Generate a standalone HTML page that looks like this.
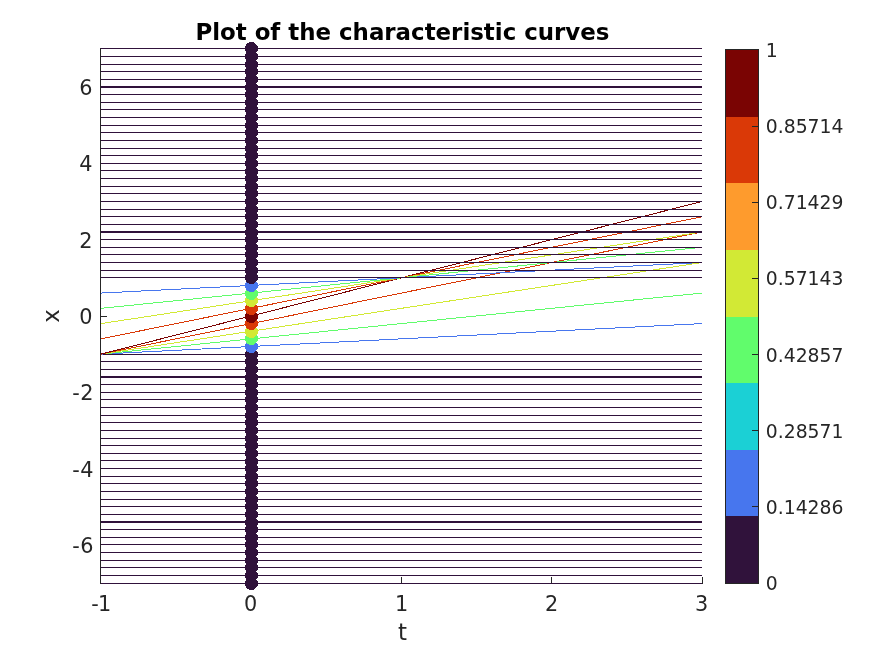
<!DOCTYPE html>
<html lang="en"><head><meta charset="utf-8"><title>Plot of the characteristic curves</title>
<style>html,body{margin:0;padding:0;background:#fff}svg{display:block}text{font-family:"DejaVu Sans","Liberation Sans",sans-serif;fill:#262626}.tk{font-size:20.8px}.cb{font-size:18.8px}.lb{font-size:22.9px}.ttl{font-size:22.9px;font-weight:bold;fill:#000}</style></head><body>
<svg width="874" height="655" viewBox="0 0 874 655">
<rect width="874" height="655" fill="#fff"/>
<g shape-rendering="crispEdges" fill="#262626">
<rect x="100" y="48" width="1" height="536"/>
<rect x="100" y="583" width="603" height="1"/>
<rect x="100" y="577" width="1" height="6"/>
<rect x="251" y="577" width="1" height="6"/>
<rect x="401" y="577" width="1" height="6"/>
<rect x="551" y="577" width="1" height="6"/>
<rect x="702" y="577" width="1" height="6"/>
<rect x="101" y="544" width="6" height="1"/>
<rect x="101" y="468" width="6" height="1"/>
<rect x="101" y="392" width="6" height="1"/>
<rect x="101" y="316" width="6" height="1"/>
<rect x="101" y="239" width="6" height="1"/>
<rect x="101" y="163" width="6" height="1"/>
<rect x="101" y="87" width="6" height="1"/>
</g>
<g shape-rendering="crispEdges">
<rect x="101" y="583" width="601" height="1" fill="#30123b"/>
<rect x="101" y="575" width="601" height="1" fill="#30123b"/>
<rect x="101" y="567" width="601" height="1" fill="#30123b"/>
<rect x="101" y="560" width="601" height="1" fill="#30123b"/>
<rect x="101" y="552" width="601" height="1" fill="#30123b"/>
<rect x="101" y="544" width="601" height="1" fill="#30123b"/>
<rect x="101" y="537" width="601" height="1" fill="#30123b"/>
<rect x="101" y="529" width="601" height="1" fill="#30123b"/>
<rect x="101" y="521" width="601" height="2" fill="#30123b"/>
<rect x="101" y="514" width="601" height="1" fill="#30123b"/>
<rect x="101" y="506" width="601" height="1" fill="#30123b"/>
<rect x="101" y="499" width="601" height="1" fill="#30123b"/>
<rect x="101" y="491" width="601" height="1" fill="#30123b"/>
<rect x="101" y="483" width="601" height="1" fill="#30123b"/>
<rect x="101" y="476" width="601" height="1" fill="#30123b"/>
<rect x="101" y="468" width="601" height="1" fill="#30123b"/>
<rect x="101" y="460" width="601" height="1" fill="#30123b"/>
<rect x="101" y="453" width="601" height="1" fill="#30123b"/>
<rect x="101" y="445" width="601" height="1" fill="#30123b"/>
<rect x="101" y="438" width="601" height="1" fill="#30123b"/>
<rect x="101" y="430" width="601" height="1" fill="#30123b"/>
<rect x="101" y="422" width="601" height="1" fill="#30123b"/>
<rect x="101" y="415" width="601" height="1" fill="#30123b"/>
<rect x="101" y="407" width="601" height="1" fill="#30123b"/>
<rect x="101" y="399" width="601" height="1" fill="#30123b"/>
<rect x="101" y="392" width="601" height="1" fill="#30123b"/>
<rect x="101" y="384" width="601" height="1" fill="#30123b"/>
<rect x="101" y="376" width="601" height="2" fill="#30123b"/>
<rect x="101" y="369" width="601" height="1" fill="#30123b"/>
<rect x="101" y="361" width="601" height="1" fill="#30123b"/>
<rect x="101" y="354" width="601" height="1" fill="#30123b"/>
<line x1="101.00" y1="354.11" x2="702.00" y2="323.58" stroke="#4776ee" stroke-width="1"/>
<line x1="101.00" y1="354.11" x2="702.00" y2="293.05" stroke="#61fc6c" stroke-width="1"/>
<line x1="101.00" y1="354.11" x2="702.00" y2="262.53" stroke="#d2e935" stroke-width="1"/>
<line x1="101.00" y1="354.11" x2="702.00" y2="232.00" stroke="#da3907" stroke-width="1"/>
<line x1="101.00" y1="354.11" x2="702.00" y2="201.47" stroke="#7a0403" stroke-width="1"/>
<line x1="101.00" y1="338.84" x2="702.00" y2="216.74" stroke="#da3907" stroke-width="1"/>
<line x1="101.00" y1="323.58" x2="702.00" y2="232.00" stroke="#d2e935" stroke-width="1"/>
<line x1="101.00" y1="308.32" x2="702.00" y2="247.26" stroke="#61fc6c" stroke-width="1"/>
<line x1="101.00" y1="293.05" x2="702.00" y2="262.53" stroke="#4776ee" stroke-width="1"/>
<rect x="101" y="277" width="601" height="1" fill="#30123b"/>
<rect x="101" y="270" width="601" height="1" fill="#30123b"/>
<rect x="101" y="262" width="601" height="1" fill="#30123b"/>
<rect x="101" y="254" width="601" height="1" fill="#30123b"/>
<rect x="101" y="247" width="601" height="1" fill="#30123b"/>
<rect x="101" y="239" width="601" height="1" fill="#30123b"/>
<rect x="101" y="231" width="601" height="2" fill="#30123b"/>
<rect x="101" y="224" width="601" height="1" fill="#30123b"/>
<rect x="101" y="216" width="601" height="1" fill="#30123b"/>
<rect x="101" y="209" width="601" height="1" fill="#30123b"/>
<rect x="101" y="201" width="601" height="1" fill="#30123b"/>
<rect x="101" y="193" width="601" height="1" fill="#30123b"/>
<rect x="101" y="186" width="601" height="1" fill="#30123b"/>
<rect x="101" y="178" width="601" height="1" fill="#30123b"/>
<rect x="101" y="170" width="601" height="1" fill="#30123b"/>
<rect x="101" y="163" width="601" height="1" fill="#30123b"/>
<rect x="101" y="155" width="601" height="1" fill="#30123b"/>
<rect x="101" y="148" width="601" height="1" fill="#30123b"/>
<rect x="101" y="140" width="601" height="1" fill="#30123b"/>
<rect x="101" y="132" width="601" height="1" fill="#30123b"/>
<rect x="101" y="125" width="601" height="1" fill="#30123b"/>
<rect x="101" y="117" width="601" height="1" fill="#30123b"/>
<rect x="101" y="109" width="601" height="1" fill="#30123b"/>
<rect x="101" y="102" width="601" height="1" fill="#30123b"/>
<rect x="101" y="94" width="601" height="1" fill="#30123b"/>
<rect x="101" y="86" width="601" height="2" fill="#30123b"/>
<rect x="101" y="79" width="601" height="1" fill="#30123b"/>
<rect x="101" y="71" width="601" height="1" fill="#30123b"/>
<rect x="101" y="64" width="601" height="1" fill="#30123b"/>
<rect x="101" y="56" width="601" height="1" fill="#30123b"/>
<rect x="101" y="48" width="601" height="1" fill="#30123b"/>
</g>
<g shape-rendering="crispEdges">
<path fill="#30123b" d="M249 577h5v1h-5zM247 578h8v1h-8zM246 579h10v1h-10zM246 580h11v1h-11zM245 581h13v1h-13zM245 582h13v1h-13zM245 583h13v1h-13zM245 584h13v1h-13zM245 585h13v1h-13zM246 586h11v1h-11zM246 587h10v1h-10zM247 588h8v1h-8zM249 589h5v1h-5z"/>
<path fill="#30123b" d="M249 569h5v1h-5zM247 570h8v1h-8zM246 571h10v1h-10zM246 572h11v1h-11zM245 573h13v1h-13zM245 574h13v1h-13zM245 575h13v1h-13zM245 576h13v1h-13zM245 577h13v1h-13zM246 578h11v1h-11zM246 579h10v1h-10zM247 580h8v1h-8zM249 581h5v1h-5z"/>
<path fill="#30123b" d="M249 561h5v1h-5zM247 562h8v1h-8zM246 563h10v1h-10zM246 564h11v1h-11zM245 565h13v1h-13zM245 566h13v1h-13zM245 567h13v1h-13zM245 568h13v1h-13zM245 569h13v1h-13zM246 570h11v1h-11zM246 571h10v1h-10zM247 572h8v1h-8zM249 573h5v1h-5z"/>
<path fill="#30123b" d="M249 554h5v1h-5zM247 555h8v1h-8zM246 556h10v1h-10zM246 557h11v1h-11zM245 558h13v1h-13zM245 559h13v1h-13zM245 560h13v1h-13zM245 561h13v1h-13zM245 562h13v1h-13zM246 563h11v1h-11zM246 564h10v1h-10zM247 565h8v1h-8zM249 566h5v1h-5z"/>
<path fill="#30123b" d="M249 546h5v1h-5zM247 547h8v1h-8zM246 548h10v1h-10zM246 549h11v1h-11zM245 550h13v1h-13zM245 551h13v1h-13zM245 552h13v1h-13zM245 553h13v1h-13zM245 554h13v1h-13zM246 555h11v1h-11zM246 556h10v1h-10zM247 557h8v1h-8zM249 558h5v1h-5z"/>
<path fill="#30123b" d="M249 538h5v1h-5zM247 539h8v1h-8zM246 540h10v1h-10zM246 541h11v1h-11zM245 542h13v1h-13zM245 543h13v1h-13zM245 544h13v1h-13zM245 545h13v1h-13zM245 546h13v1h-13zM246 547h11v1h-11zM246 548h10v1h-10zM247 549h8v1h-8zM249 550h5v1h-5z"/>
<path fill="#30123b" d="M249 531h5v1h-5zM247 532h8v1h-8zM246 533h10v1h-10zM246 534h11v1h-11zM245 535h13v1h-13zM245 536h13v1h-13zM245 537h13v1h-13zM245 538h13v1h-13zM245 539h13v1h-13zM246 540h11v1h-11zM246 541h10v1h-10zM247 542h8v1h-8zM249 543h5v1h-5z"/>
<path fill="#30123b" d="M249 523h5v1h-5zM247 524h8v1h-8zM246 525h10v1h-10zM246 526h11v1h-11zM245 527h13v1h-13zM245 528h13v1h-13zM245 529h13v1h-13zM245 530h13v1h-13zM245 531h13v1h-13zM246 532h11v1h-11zM246 533h10v1h-10zM247 534h8v1h-8zM249 535h5v1h-5z"/>
<path fill="#30123b" d="M249 516h5v1h-5zM247 517h8v1h-8zM246 518h10v1h-10zM246 519h11v1h-11zM245 520h13v1h-13zM245 521h13v1h-13zM245 522h13v1h-13zM245 523h13v1h-13zM245 524h13v1h-13zM246 525h11v1h-11zM246 526h10v1h-10zM247 527h8v1h-8zM249 528h5v1h-5z"/>
<path fill="#30123b" d="M249 508h5v1h-5zM247 509h8v1h-8zM246 510h10v1h-10zM246 511h11v1h-11zM245 512h13v1h-13zM245 513h13v1h-13zM245 514h13v1h-13zM245 515h13v1h-13zM245 516h13v1h-13zM246 517h11v1h-11zM246 518h10v1h-10zM247 519h8v1h-8zM249 520h5v1h-5z"/>
<path fill="#30123b" d="M249 500h5v1h-5zM247 501h8v1h-8zM246 502h10v1h-10zM246 503h11v1h-11zM245 504h13v1h-13zM245 505h13v1h-13zM245 506h13v1h-13zM245 507h13v1h-13zM245 508h13v1h-13zM246 509h11v1h-11zM246 510h10v1h-10zM247 511h8v1h-8zM249 512h5v1h-5z"/>
<path fill="#30123b" d="M249 493h5v1h-5zM247 494h8v1h-8zM246 495h10v1h-10zM246 496h11v1h-11zM245 497h13v1h-13zM245 498h13v1h-13zM245 499h13v1h-13zM245 500h13v1h-13zM245 501h13v1h-13zM246 502h11v1h-11zM246 503h10v1h-10zM247 504h8v1h-8zM249 505h5v1h-5z"/>
<path fill="#30123b" d="M249 485h5v1h-5zM247 486h8v1h-8zM246 487h10v1h-10zM246 488h11v1h-11zM245 489h13v1h-13zM245 490h13v1h-13zM245 491h13v1h-13zM245 492h13v1h-13zM245 493h13v1h-13zM246 494h11v1h-11zM246 495h10v1h-10zM247 496h8v1h-8zM249 497h5v1h-5z"/>
<path fill="#30123b" d="M249 477h5v1h-5zM247 478h8v1h-8zM246 479h10v1h-10zM246 480h11v1h-11zM245 481h13v1h-13zM245 482h13v1h-13zM245 483h13v1h-13zM245 484h13v1h-13zM245 485h13v1h-13zM246 486h11v1h-11zM246 487h10v1h-10zM247 488h8v1h-8zM249 489h5v1h-5z"/>
<path fill="#30123b" d="M249 470h5v1h-5zM247 471h8v1h-8zM246 472h10v1h-10zM246 473h11v1h-11zM245 474h13v1h-13zM245 475h13v1h-13zM245 476h13v1h-13zM245 477h13v1h-13zM245 478h13v1h-13zM246 479h11v1h-11zM246 480h10v1h-10zM247 481h8v1h-8zM249 482h5v1h-5z"/>
<path fill="#30123b" d="M249 462h5v1h-5zM247 463h8v1h-8zM246 464h10v1h-10zM246 465h11v1h-11zM245 466h13v1h-13zM245 467h13v1h-13zM245 468h13v1h-13zM245 469h13v1h-13zM245 470h13v1h-13zM246 471h11v1h-11zM246 472h10v1h-10zM247 473h8v1h-8zM249 474h5v1h-5z"/>
<path fill="#30123b" d="M249 455h5v1h-5zM247 456h8v1h-8zM246 457h10v1h-10zM246 458h11v1h-11zM245 459h13v1h-13zM245 460h13v1h-13zM245 461h13v1h-13zM245 462h13v1h-13zM245 463h13v1h-13zM246 464h11v1h-11zM246 465h10v1h-10zM247 466h8v1h-8zM249 467h5v1h-5z"/>
<path fill="#30123b" d="M249 447h5v1h-5zM247 448h8v1h-8zM246 449h10v1h-10zM246 450h11v1h-11zM245 451h13v1h-13zM245 452h13v1h-13zM245 453h13v1h-13zM245 454h13v1h-13zM245 455h13v1h-13zM246 456h11v1h-11zM246 457h10v1h-10zM247 458h8v1h-8zM249 459h5v1h-5z"/>
<path fill="#30123b" d="M249 439h5v1h-5zM247 440h8v1h-8zM246 441h10v1h-10zM246 442h11v1h-11zM245 443h13v1h-13zM245 444h13v1h-13zM245 445h13v1h-13zM245 446h13v1h-13zM245 447h13v1h-13zM246 448h11v1h-11zM246 449h10v1h-10zM247 450h8v1h-8zM249 451h5v1h-5z"/>
<path fill="#30123b" d="M249 432h5v1h-5zM247 433h8v1h-8zM246 434h10v1h-10zM246 435h11v1h-11zM245 436h13v1h-13zM245 437h13v1h-13zM245 438h13v1h-13zM245 439h13v1h-13zM245 440h13v1h-13zM246 441h11v1h-11zM246 442h10v1h-10zM247 443h8v1h-8zM249 444h5v1h-5z"/>
<path fill="#30123b" d="M249 424h5v1h-5zM247 425h8v1h-8zM246 426h10v1h-10zM246 427h11v1h-11zM245 428h13v1h-13zM245 429h13v1h-13zM245 430h13v1h-13zM245 431h13v1h-13zM245 432h13v1h-13zM246 433h11v1h-11zM246 434h10v1h-10zM247 435h8v1h-8zM249 436h5v1h-5z"/>
<path fill="#30123b" d="M249 416h5v1h-5zM247 417h8v1h-8zM246 418h10v1h-10zM246 419h11v1h-11zM245 420h13v1h-13zM245 421h13v1h-13zM245 422h13v1h-13zM245 423h13v1h-13zM245 424h13v1h-13zM246 425h11v1h-11zM246 426h10v1h-10zM247 427h8v1h-8zM249 428h5v1h-5z"/>
<path fill="#30123b" d="M249 409h5v1h-5zM247 410h8v1h-8zM246 411h10v1h-10zM246 412h11v1h-11zM245 413h13v1h-13zM245 414h13v1h-13zM245 415h13v1h-13zM245 416h13v1h-13zM245 417h13v1h-13zM246 418h11v1h-11zM246 419h10v1h-10zM247 420h8v1h-8zM249 421h5v1h-5z"/>
<path fill="#30123b" d="M249 401h5v1h-5zM247 402h8v1h-8zM246 403h10v1h-10zM246 404h11v1h-11zM245 405h13v1h-13zM245 406h13v1h-13zM245 407h13v1h-13zM245 408h13v1h-13zM245 409h13v1h-13zM246 410h11v1h-11zM246 411h10v1h-10zM247 412h8v1h-8zM249 413h5v1h-5z"/>
<path fill="#30123b" d="M249 393h5v1h-5zM247 394h8v1h-8zM246 395h10v1h-10zM246 396h11v1h-11zM245 397h13v1h-13zM245 398h13v1h-13zM245 399h13v1h-13zM245 400h13v1h-13zM245 401h13v1h-13zM246 402h11v1h-11zM246 403h10v1h-10zM247 404h8v1h-8zM249 405h5v1h-5z"/>
<path fill="#30123b" d="M249 386h5v1h-5zM247 387h8v1h-8zM246 388h10v1h-10zM246 389h11v1h-11zM245 390h13v1h-13zM245 391h13v1h-13zM245 392h13v1h-13zM245 393h13v1h-13zM245 394h13v1h-13zM246 395h11v1h-11zM246 396h10v1h-10zM247 397h8v1h-8zM249 398h5v1h-5z"/>
<path fill="#30123b" d="M249 378h5v1h-5zM247 379h8v1h-8zM246 380h10v1h-10zM246 381h11v1h-11zM245 382h13v1h-13zM245 383h13v1h-13zM245 384h13v1h-13zM245 385h13v1h-13zM245 386h13v1h-13zM246 387h11v1h-11zM246 388h10v1h-10zM247 389h8v1h-8zM249 390h5v1h-5z"/>
<path fill="#30123b" d="M249 371h5v1h-5zM247 372h8v1h-8zM246 373h10v1h-10zM246 374h11v1h-11zM245 375h13v1h-13zM245 376h13v1h-13zM245 377h13v1h-13zM245 378h13v1h-13zM245 379h13v1h-13zM246 380h11v1h-11zM246 381h10v1h-10zM247 382h8v1h-8zM249 383h5v1h-5z"/>
<path fill="#30123b" d="M249 363h5v1h-5zM247 364h8v1h-8zM246 365h10v1h-10zM246 366h11v1h-11zM245 367h13v1h-13zM245 368h13v1h-13zM245 369h13v1h-13zM245 370h13v1h-13zM245 371h13v1h-13zM246 372h11v1h-11zM246 373h10v1h-10zM247 374h8v1h-8zM249 375h5v1h-5z"/>
<path fill="#30123b" d="M249 355h5v1h-5zM247 356h8v1h-8zM246 357h10v1h-10zM246 358h11v1h-11zM245 359h13v1h-13zM245 360h13v1h-13zM245 361h13v1h-13zM245 362h13v1h-13zM245 363h13v1h-13zM246 364h11v1h-11zM246 365h10v1h-10zM247 366h8v1h-8zM249 367h5v1h-5z"/>
<path fill="#30123b" d="M249 348h5v1h-5zM247 349h8v1h-8zM246 350h10v1h-10zM246 351h11v1h-11zM245 352h13v1h-13zM245 353h13v1h-13zM245 354h13v1h-13zM245 355h13v1h-13zM245 356h13v1h-13zM246 357h11v1h-11zM246 358h10v1h-10zM247 359h8v1h-8zM249 360h5v1h-5z"/>
<path fill="#4776ee" d="M249 340h5v1h-5zM247 341h8v1h-8zM246 342h10v1h-10zM246 343h11v1h-11zM245 344h13v1h-13zM245 345h13v1h-13zM245 346h13v1h-13zM245 347h13v1h-13zM245 348h13v1h-13zM246 349h11v1h-11zM246 350h10v1h-10zM247 351h8v1h-8zM249 352h5v1h-5z"/>
<path fill="#61fc6c" d="M249 332h5v1h-5zM247 333h8v1h-8zM246 334h10v1h-10zM246 335h11v1h-11zM245 336h13v1h-13zM245 337h13v1h-13zM245 338h13v1h-13zM245 339h13v1h-13zM245 340h13v1h-13zM246 341h11v1h-11zM246 342h10v1h-10zM247 343h8v1h-8zM249 344h5v1h-5z"/>
<path fill="#d2e935" d="M249 325h5v1h-5zM247 326h8v1h-8zM246 327h10v1h-10zM246 328h11v1h-11zM245 329h13v1h-13zM245 330h13v1h-13zM245 331h13v1h-13zM245 332h13v1h-13zM245 333h13v1h-13zM246 334h11v1h-11zM246 335h10v1h-10zM247 336h8v1h-8zM249 337h5v1h-5z"/>
<path fill="#da3907" d="M249 317h5v1h-5zM247 318h8v1h-8zM246 319h10v1h-10zM246 320h11v1h-11zM245 321h13v1h-13zM245 322h13v1h-13zM245 323h13v1h-13zM245 324h13v1h-13zM245 325h13v1h-13zM246 326h11v1h-11zM246 327h10v1h-10zM247 328h8v1h-8zM249 329h5v1h-5z"/>
<path fill="#7a0403" d="M249 310h5v1h-5zM247 311h8v1h-8zM246 312h10v1h-10zM246 313h11v1h-11zM245 314h13v1h-13zM245 315h13v1h-13zM245 316h13v1h-13zM245 317h13v1h-13zM245 318h13v1h-13zM246 319h11v1h-11zM246 320h10v1h-10zM247 321h8v1h-8zM249 322h5v1h-5z"/>
<path fill="#da3907" d="M249 302h5v1h-5zM247 303h8v1h-8zM246 304h10v1h-10zM246 305h11v1h-11zM245 306h13v1h-13zM245 307h13v1h-13zM245 308h13v1h-13zM245 309h13v1h-13zM245 310h13v1h-13zM246 311h11v1h-11zM246 312h10v1h-10zM247 313h8v1h-8zM249 314h5v1h-5z"/>
<path fill="#d2e935" d="M249 294h5v1h-5zM247 295h8v1h-8zM246 296h10v1h-10zM246 297h11v1h-11zM245 298h13v1h-13zM245 299h13v1h-13zM245 300h13v1h-13zM245 301h13v1h-13zM245 302h13v1h-13zM246 303h11v1h-11zM246 304h10v1h-10zM247 305h8v1h-8zM249 306h5v1h-5z"/>
<path fill="#61fc6c" d="M249 287h5v1h-5zM247 288h8v1h-8zM246 289h10v1h-10zM246 290h11v1h-11zM245 291h13v1h-13zM245 292h13v1h-13zM245 293h13v1h-13zM245 294h13v1h-13zM245 295h13v1h-13zM246 296h11v1h-11zM246 297h10v1h-10zM247 298h8v1h-8zM249 299h5v1h-5z"/>
<path fill="#4776ee" d="M249 279h5v1h-5zM247 280h8v1h-8zM246 281h10v1h-10zM246 282h11v1h-11zM245 283h13v1h-13zM245 284h13v1h-13zM245 285h13v1h-13zM245 286h13v1h-13zM245 287h13v1h-13zM246 288h11v1h-11zM246 289h10v1h-10zM247 290h8v1h-8zM249 291h5v1h-5z"/>
<path fill="#30123b" d="M249 271h5v1h-5zM247 272h8v1h-8zM246 273h10v1h-10zM246 274h11v1h-11zM245 275h13v1h-13zM245 276h13v1h-13zM245 277h13v1h-13zM245 278h13v1h-13zM245 279h13v1h-13zM246 280h11v1h-11zM246 281h10v1h-10zM247 282h8v1h-8zM249 283h5v1h-5z"/>
<path fill="#30123b" d="M249 264h5v1h-5zM247 265h8v1h-8zM246 266h10v1h-10zM246 267h11v1h-11zM245 268h13v1h-13zM245 269h13v1h-13zM245 270h13v1h-13zM245 271h13v1h-13zM245 272h13v1h-13zM246 273h11v1h-11zM246 274h10v1h-10zM247 275h8v1h-8zM249 276h5v1h-5z"/>
<path fill="#30123b" d="M249 256h5v1h-5zM247 257h8v1h-8zM246 258h10v1h-10zM246 259h11v1h-11zM245 260h13v1h-13zM245 261h13v1h-13zM245 262h13v1h-13zM245 263h13v1h-13zM245 264h13v1h-13zM246 265h11v1h-11zM246 266h10v1h-10zM247 267h8v1h-8zM249 268h5v1h-5z"/>
<path fill="#30123b" d="M249 248h5v1h-5zM247 249h8v1h-8zM246 250h10v1h-10zM246 251h11v1h-11zM245 252h13v1h-13zM245 253h13v1h-13zM245 254h13v1h-13zM245 255h13v1h-13zM245 256h13v1h-13zM246 257h11v1h-11zM246 258h10v1h-10zM247 259h8v1h-8zM249 260h5v1h-5z"/>
<path fill="#30123b" d="M249 241h5v1h-5zM247 242h8v1h-8zM246 243h10v1h-10zM246 244h11v1h-11zM245 245h13v1h-13zM245 246h13v1h-13zM245 247h13v1h-13zM245 248h13v1h-13zM245 249h13v1h-13zM246 250h11v1h-11zM246 251h10v1h-10zM247 252h8v1h-8zM249 253h5v1h-5z"/>
<path fill="#30123b" d="M249 233h5v1h-5zM247 234h8v1h-8zM246 235h10v1h-10zM246 236h11v1h-11zM245 237h13v1h-13zM245 238h13v1h-13zM245 239h13v1h-13zM245 240h13v1h-13zM245 241h13v1h-13zM246 242h11v1h-11zM246 243h10v1h-10zM247 244h8v1h-8zM249 245h5v1h-5z"/>
<path fill="#30123b" d="M249 226h5v1h-5zM247 227h8v1h-8zM246 228h10v1h-10zM246 229h11v1h-11zM245 230h13v1h-13zM245 231h13v1h-13zM245 232h13v1h-13zM245 233h13v1h-13zM245 234h13v1h-13zM246 235h11v1h-11zM246 236h10v1h-10zM247 237h8v1h-8zM249 238h5v1h-5z"/>
<path fill="#30123b" d="M249 218h5v1h-5zM247 219h8v1h-8zM246 220h10v1h-10zM246 221h11v1h-11zM245 222h13v1h-13zM245 223h13v1h-13zM245 224h13v1h-13zM245 225h13v1h-13zM245 226h13v1h-13zM246 227h11v1h-11zM246 228h10v1h-10zM247 229h8v1h-8zM249 230h5v1h-5z"/>
<path fill="#30123b" d="M249 210h5v1h-5zM247 211h8v1h-8zM246 212h10v1h-10zM246 213h11v1h-11zM245 214h13v1h-13zM245 215h13v1h-13zM245 216h13v1h-13zM245 217h13v1h-13zM245 218h13v1h-13zM246 219h11v1h-11zM246 220h10v1h-10zM247 221h8v1h-8zM249 222h5v1h-5z"/>
<path fill="#30123b" d="M249 203h5v1h-5zM247 204h8v1h-8zM246 205h10v1h-10zM246 206h11v1h-11zM245 207h13v1h-13zM245 208h13v1h-13zM245 209h13v1h-13zM245 210h13v1h-13zM245 211h13v1h-13zM246 212h11v1h-11zM246 213h10v1h-10zM247 214h8v1h-8zM249 215h5v1h-5z"/>
<path fill="#30123b" d="M249 195h5v1h-5zM247 196h8v1h-8zM246 197h10v1h-10zM246 198h11v1h-11zM245 199h13v1h-13zM245 200h13v1h-13zM245 201h13v1h-13zM245 202h13v1h-13zM245 203h13v1h-13zM246 204h11v1h-11zM246 205h10v1h-10zM247 206h8v1h-8zM249 207h5v1h-5z"/>
<path fill="#30123b" d="M249 187h5v1h-5zM247 188h8v1h-8zM246 189h10v1h-10zM246 190h11v1h-11zM245 191h13v1h-13zM245 192h13v1h-13zM245 193h13v1h-13zM245 194h13v1h-13zM245 195h13v1h-13zM246 196h11v1h-11zM246 197h10v1h-10zM247 198h8v1h-8zM249 199h5v1h-5z"/>
<path fill="#30123b" d="M249 180h5v1h-5zM247 181h8v1h-8zM246 182h10v1h-10zM246 183h11v1h-11zM245 184h13v1h-13zM245 185h13v1h-13zM245 186h13v1h-13zM245 187h13v1h-13zM245 188h13v1h-13zM246 189h11v1h-11zM246 190h10v1h-10zM247 191h8v1h-8zM249 192h5v1h-5z"/>
<path fill="#30123b" d="M249 172h5v1h-5zM247 173h8v1h-8zM246 174h10v1h-10zM246 175h11v1h-11zM245 176h13v1h-13zM245 177h13v1h-13zM245 178h13v1h-13zM245 179h13v1h-13zM245 180h13v1h-13zM246 181h11v1h-11zM246 182h10v1h-10zM247 183h8v1h-8zM249 184h5v1h-5z"/>
<path fill="#30123b" d="M249 165h5v1h-5zM247 166h8v1h-8zM246 167h10v1h-10zM246 168h11v1h-11zM245 169h13v1h-13zM245 170h13v1h-13zM245 171h13v1h-13zM245 172h13v1h-13zM245 173h13v1h-13zM246 174h11v1h-11zM246 175h10v1h-10zM247 176h8v1h-8zM249 177h5v1h-5z"/>
<path fill="#30123b" d="M249 157h5v1h-5zM247 158h8v1h-8zM246 159h10v1h-10zM246 160h11v1h-11zM245 161h13v1h-13zM245 162h13v1h-13zM245 163h13v1h-13zM245 164h13v1h-13zM245 165h13v1h-13zM246 166h11v1h-11zM246 167h10v1h-10zM247 168h8v1h-8zM249 169h5v1h-5z"/>
<path fill="#30123b" d="M249 149h5v1h-5zM247 150h8v1h-8zM246 151h10v1h-10zM246 152h11v1h-11zM245 153h13v1h-13zM245 154h13v1h-13zM245 155h13v1h-13zM245 156h13v1h-13zM245 157h13v1h-13zM246 158h11v1h-11zM246 159h10v1h-10zM247 160h8v1h-8zM249 161h5v1h-5z"/>
<path fill="#30123b" d="M249 142h5v1h-5zM247 143h8v1h-8zM246 144h10v1h-10zM246 145h11v1h-11zM245 146h13v1h-13zM245 147h13v1h-13zM245 148h13v1h-13zM245 149h13v1h-13zM245 150h13v1h-13zM246 151h11v1h-11zM246 152h10v1h-10zM247 153h8v1h-8zM249 154h5v1h-5z"/>
<path fill="#30123b" d="M249 134h5v1h-5zM247 135h8v1h-8zM246 136h10v1h-10zM246 137h11v1h-11zM245 138h13v1h-13zM245 139h13v1h-13zM245 140h13v1h-13zM245 141h13v1h-13zM245 142h13v1h-13zM246 143h11v1h-11zM246 144h10v1h-10zM247 145h8v1h-8zM249 146h5v1h-5z"/>
<path fill="#30123b" d="M249 126h5v1h-5zM247 127h8v1h-8zM246 128h10v1h-10zM246 129h11v1h-11zM245 130h13v1h-13zM245 131h13v1h-13zM245 132h13v1h-13zM245 133h13v1h-13zM245 134h13v1h-13zM246 135h11v1h-11zM246 136h10v1h-10zM247 137h8v1h-8zM249 138h5v1h-5z"/>
<path fill="#30123b" d="M249 119h5v1h-5zM247 120h8v1h-8zM246 121h10v1h-10zM246 122h11v1h-11zM245 123h13v1h-13zM245 124h13v1h-13zM245 125h13v1h-13zM245 126h13v1h-13zM245 127h13v1h-13zM246 128h11v1h-11zM246 129h10v1h-10zM247 130h8v1h-8zM249 131h5v1h-5z"/>
<path fill="#30123b" d="M249 111h5v1h-5zM247 112h8v1h-8zM246 113h10v1h-10zM246 114h11v1h-11zM245 115h13v1h-13zM245 116h13v1h-13zM245 117h13v1h-13zM245 118h13v1h-13zM245 119h13v1h-13zM246 120h11v1h-11zM246 121h10v1h-10zM247 122h8v1h-8zM249 123h5v1h-5z"/>
<path fill="#30123b" d="M249 103h5v1h-5zM247 104h8v1h-8zM246 105h10v1h-10zM246 106h11v1h-11zM245 107h13v1h-13zM245 108h13v1h-13zM245 109h13v1h-13zM245 110h13v1h-13zM245 111h13v1h-13zM246 112h11v1h-11zM246 113h10v1h-10zM247 114h8v1h-8zM249 115h5v1h-5z"/>
<path fill="#30123b" d="M249 96h5v1h-5zM247 97h8v1h-8zM246 98h10v1h-10zM246 99h11v1h-11zM245 100h13v1h-13zM245 101h13v1h-13zM245 102h13v1h-13zM245 103h13v1h-13zM245 104h13v1h-13zM246 105h11v1h-11zM246 106h10v1h-10zM247 107h8v1h-8zM249 108h5v1h-5z"/>
<path fill="#30123b" d="M249 88h5v1h-5zM247 89h8v1h-8zM246 90h10v1h-10zM246 91h11v1h-11zM245 92h13v1h-13zM245 93h13v1h-13zM245 94h13v1h-13zM245 95h13v1h-13zM245 96h13v1h-13zM246 97h11v1h-11zM246 98h10v1h-10zM247 99h8v1h-8zM249 100h5v1h-5z"/>
<path fill="#30123b" d="M249 81h5v1h-5zM247 82h8v1h-8zM246 83h10v1h-10zM246 84h11v1h-11zM245 85h13v1h-13zM245 86h13v1h-13zM245 87h13v1h-13zM245 88h13v1h-13zM245 89h13v1h-13zM246 90h11v1h-11zM246 91h10v1h-10zM247 92h8v1h-8zM249 93h5v1h-5z"/>
<path fill="#30123b" d="M249 73h5v1h-5zM247 74h8v1h-8zM246 75h10v1h-10zM246 76h11v1h-11zM245 77h13v1h-13zM245 78h13v1h-13zM245 79h13v1h-13zM245 80h13v1h-13zM245 81h13v1h-13zM246 82h11v1h-11zM246 83h10v1h-10zM247 84h8v1h-8zM249 85h5v1h-5z"/>
<path fill="#30123b" d="M249 65h5v1h-5zM247 66h8v1h-8zM246 67h10v1h-10zM246 68h11v1h-11zM245 69h13v1h-13zM245 70h13v1h-13zM245 71h13v1h-13zM245 72h13v1h-13zM245 73h13v1h-13zM246 74h11v1h-11zM246 75h10v1h-10zM247 76h8v1h-8zM249 77h5v1h-5z"/>
<path fill="#30123b" d="M249 58h5v1h-5zM247 59h8v1h-8zM246 60h10v1h-10zM246 61h11v1h-11zM245 62h13v1h-13zM245 63h13v1h-13zM245 64h13v1h-13zM245 65h13v1h-13zM245 66h13v1h-13zM246 67h11v1h-11zM246 68h10v1h-10zM247 69h8v1h-8zM249 70h5v1h-5z"/>
<path fill="#30123b" d="M249 50h5v1h-5zM247 51h8v1h-8zM246 52h10v1h-10zM246 53h11v1h-11zM245 54h13v1h-13zM245 55h13v1h-13zM245 56h13v1h-13zM245 57h13v1h-13zM245 58h13v1h-13zM246 59h11v1h-11zM246 60h10v1h-10zM247 61h8v1h-8zM249 62h5v1h-5z"/>
<path fill="#30123b" d="M249 42h5v1h-5zM247 43h8v1h-8zM246 44h10v1h-10zM246 45h11v1h-11zM245 46h13v1h-13zM245 47h13v1h-13zM245 48h13v1h-13zM245 49h13v1h-13zM245 50h13v1h-13zM246 51h11v1h-11zM246 52h10v1h-10zM247 53h8v1h-8zM249 54h5v1h-5z"/>
</g>
<g shape-rendering="crispEdges">
<rect x="725" y="516" width="34" height="68" fill="#30123b"/>
<rect x="725" y="450" width="34" height="66" fill="#4776ee"/>
<rect x="725" y="383" width="34" height="67" fill="#1bd0d5"/>
<rect x="725" y="317" width="34" height="66" fill="#61fc6c"/>
<rect x="725" y="250" width="34" height="67" fill="#d2e935"/>
<rect x="725" y="183" width="34" height="67" fill="#fe9b2d"/>
<rect x="725" y="117" width="34" height="66" fill="#da3907"/>
<rect x="725" y="49" width="34" height="68" fill="#7a0403"/>
<rect x="725" y="49" width="1" height="535" fill="#262626"/>
<rect x="758" y="49" width="1" height="535" fill="#262626"/>
<rect x="725" y="49" width="34" height="1" fill="#262626"/>
<rect x="725" y="583" width="34" height="1" fill="#262626"/>
<rect x="752" y="506" width="6" height="1" fill="#262626"/>
<rect x="752" y="430" width="6" height="1" fill="#262626"/>
<rect x="752" y="354" width="6" height="1" fill="#262626"/>
<rect x="752" y="278" width="6" height="1" fill="#262626"/>
<rect x="752" y="202" width="6" height="1" fill="#262626"/>
<rect x="752" y="126" width="6" height="1" fill="#262626"/>
</g>
<text class="cb" x="765.8" y="590">0</text>
<text class="cb" x="765.8" y="514">0.14286</text>
<text class="cb" x="765.8" y="438">0.28571</text>
<text class="cb" x="765.8" y="362">0.42857</text>
<text class="cb" x="765.8" y="285">0.57143</text>
<text class="cb" x="765.8" y="209">0.71429</text>
<text class="cb" x="765.8" y="133">0.85714</text>
<text class="cb" x="765.8" y="57">1</text>
<text class="tk" x="93.45" y="553" text-anchor="end">-<tspan dx="0.4">6</tspan></text>
<text class="tk" x="93.45" y="477" text-anchor="end">-<tspan dx="0.4">4</tspan></text>
<text class="tk" x="93.45" y="400" text-anchor="end">-<tspan dx="0.4">2</tspan></text>
<text class="tk" x="92.6" y="324" text-anchor="end">0</text>
<text class="tk" x="92.6" y="248" text-anchor="end">2</text>
<text class="tk" x="92.6" y="171" text-anchor="end">4</text>
<text class="tk" x="92.6" y="95" text-anchor="end">6</text>
<text class="tk" x="101.2" y="611" text-anchor="middle">-<tspan dx="-0.8">1</tspan></text>
<text class="tk" x="250.7" y="611" text-anchor="middle">0</text>
<text class="tk" x="401.7" y="611" text-anchor="middle">1</text>
<text class="tk" x="551.5" y="611" text-anchor="middle">2</text>
<text class="tk" x="701.7" y="611" text-anchor="middle">3</text>
<text class="lb" x="402.5" y="640" text-anchor="middle">t</text>
<text class="lb" transform="translate(59,316.1) rotate(-90)" text-anchor="middle">x</text>
<text class="ttl" x="402.4" y="40" text-anchor="middle">Plot of the characteristic curves</text>
</svg></body></html>
